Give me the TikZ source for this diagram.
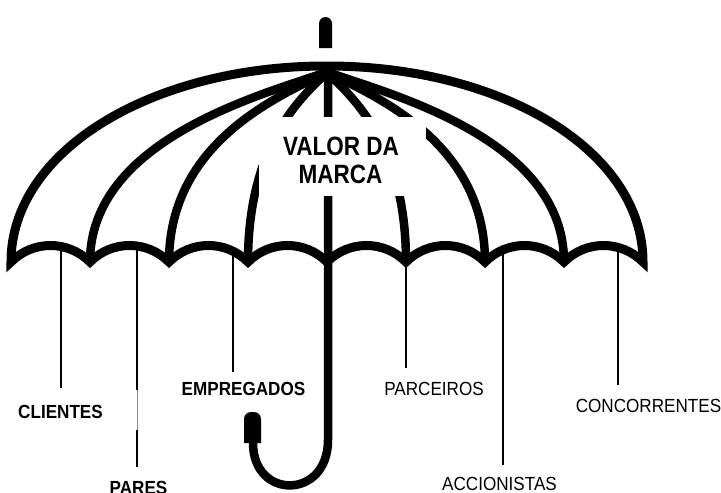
\documentclass[tikz,border=0pt]{standalone}
\usepackage{fontspec}
\setmainfont{Liberation Sans}
\newfontfamily\lblfont[FakeStretch=0.9]{Liberation Sans}
\newfontfamily\titlefont[FakeStretch=0.85]{Liberation Sans}
\begin{document}
\begin{tikzpicture}[x=1pt,y=-1pt,
  canopy/.style={line width=9pt, line join=miter, miter limit=10},
  rib/.style={line width=8.5pt},
  leader/.style={line width=1.4pt},
  lbl/.style={font=\lblfont\fontsize{19}{22}\selectfont, inner sep=0pt, anchor=base},
  boldlbl/.style={lbl, font=\lblfont\bfseries\fontsize{19}{22}\selectfont},
  titletext/.style={font=\titlefont\bfseries\fontsize{26.5}{30}\selectfont, inner sep=0pt, anchor=base}]
\useasboundingbox (0,0) rectangle (721,493);

% label leaders hanging from the scalloped edge
\coordinate (clT) at (61,250);  \coordinate (clB) at (61,388);
\coordinate (paT) at (137,250); \coordinate (paM1) at (137,390);
\coordinate (paM2) at (137,430); \coordinate (paB) at (137,467);
\coordinate (emT) at (233,250); \coordinate (emB) at (233,372);
\coordinate (pcT) at (406,255); \coordinate (pcB) at (406,368);
\coordinate (acT) at (503,250); \coordinate (acB) at (503,465);
\coordinate (coT) at (618,250); \coordinate (coB) at (618,385);
\draw[leader] (clT) -- (clB);
\draw[leader] (paT) -- (paM1);
\draw[line width=0.8pt, black!45] (paM1) -- (paM2);
\draw[leader] (paM2) -- (paB);
\draw[leader] (emT) -- (emB);
\draw[leader] (pcT) -- (pcB);
\draw[leader] (acT) -- (acB);
\draw[leader] (coT) -- (coB);

% ferrule on top
\fill (319,48) [rounded corners=6.5pt] -- (319,17) -- (332,17) [sharp corners] -- (332,48) -- cycle;

% apex of the canopy
\coordinate (apex) at (327,72);

% ribs
\foreach \a in {-237,-158,-79,79,158,237}{
  \draw[rib] (apex) .. controls ({327+0.28*\a},95) and ({327+\a},140) .. ({327+\a},262);
}

% shaft and hooked handle
\draw[rib] (328,70) -- (328,440) .. controls (328,500) and (253,500) .. (253,443);
\fill (244,443) [rounded corners=7pt] -- (244,412) -- (261,412) [sharp corners] -- (261,443) -- cycle;

% canopy outline with scalloped hem
\draw[canopy] (327,66) .. controls (501,66) and (643,150) .. (643,262)
  .. controls (621,240) and (586,240) .. (564,262)
  .. controls (542,240) and (507,240) .. (485,262)
  .. controls (463,240) and (428,240) .. (406,262)
  .. controls (384,240) and (349,240) .. (327,262)
  .. controls (305,240) and (270,240) .. (248,262)
  .. controls (226,240) and (191,240) .. (169,262)
  .. controls (147,240) and (112,240) .. (90,262)
  .. controls (68,240) and (33,240) .. (11,262)
  .. controls (11,150) and (153,66) .. (326,66) -- cycle;

% central panel carrying the title
\node[fill=white, inner sep=0pt, minimum width=167pt, minimum height=79pt] (panel) at (342.5,156.5) {};
\node[titletext] (valor) at (341,155) {VALOR DA};
\node[titletext] (marca) at (340.5,183) {MARCA};

% labels
\node[boldlbl] (clientes) at (60.5,418) {CLIENTES};
\node[boldlbl] (pares) at (138.5,494) {PARES};
\node[boldlbl] (empregados) at (243.5,395) {EMPREGADOS};
\node[lbl] (parceiros) at (434,395) {PARCEIROS};
\node[lbl] (accionistas) at (499.5,490) {ACCIONISTAS};
\node[lbl] (concorrentes) at (648.5,412) {CONCORRENTES};
\end{tikzpicture}
\end{document}
